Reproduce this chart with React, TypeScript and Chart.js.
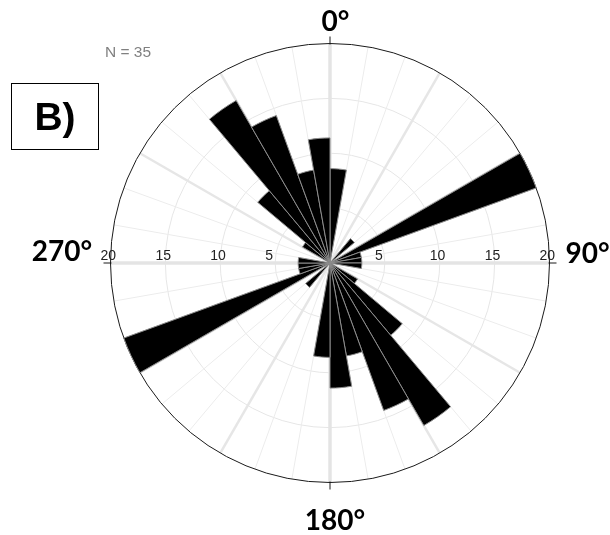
import React, { useEffect, useRef } from 'react';
import { Chart, registerables } from 'chart.js';

Chart.register(...registerables);

// 10° bins (start angle of each bin, clockwise from north)
const BIN_STARTS = [
  0, 10, 20, 30, 40, 50, 60, 70, 80, 90, 100, 110,
  120, 130, 140, 150, 160, 170, 180, 190, 200, 210, 220, 230,
  240, 250, 260, 270, 280, 290, 300, 310, 320, 330, 340, 350,
];

// percentage of observations in each bin
const PERCENT = [
  8.6, 0, 0, 0, 2.9, 0, 20, 2.9, 2.9, 2.9, 0, 0,
  2.9, 8.6, 17.1, 14.3, 8.6, 11.4, 8.6, 0, 0, 0, 2.9, 0,
  20, 2.9, 2.9, 2.9, 0, 0, 2.9, 8.6, 17.1, 14.3, 8.6, 11.4,
];

const RADIAL_TICKS = [5, 10, 15, 20];
const RADIAL_MAX = 20;
const DIRECTION_LABELS = ['0°', '90°', '180°', '270°'];
const SAMPLE_LABEL = 'N = 35';
const PANEL_LABEL = 'B)';

const CANVAS_SIZE = 480;
const OUTER_RADIUS = 219.5;
const CENTER_X = 330;
const CENTER_Y = 263;

export default function App() {
  const ref = useRef<HTMLCanvasElement>(null);

  useEffect(() => {
    const canvas = ref.current;
    if (!canvas) return;

    const rad = (deg: number) => ((deg - 90) * Math.PI) / 180;

    const roseGrid = {
      id: 'roseGrid',
      beforeDatasetsDraw(chart: any) {
        const scale = chart.scales.r;
        const ctx = chart.ctx as CanvasRenderingContext2D;
        const cx = scale.xCenter;
        const cy = scale.yCenter;
        const R = scale.getDistanceFromCenterForValue(RADIAL_MAX);
        ctx.save();
        // rings
        ctx.strokeStyle = '#e6e6e6';
        ctx.lineWidth = 1;
        RADIAL_TICKS.filter((v) => v < RADIAL_MAX).forEach((v) => {
          const r = scale.getDistanceFromCenterForValue(v);
          ctx.beginPath();
          ctx.arc(cx, cy, r, 0, Math.PI * 2);
          ctx.stroke();
        });
        // spokes
        BIN_STARTS.forEach((a) => {
          if (a % 90 === 0) {
            ctx.lineWidth = 3.5;
            ctx.strokeStyle = '#e4e4e4';
          } else if (a % 30 === 0) {
            ctx.lineWidth = 2.5;
            ctx.strokeStyle = '#e6e6e6';
          } else {
            ctx.lineWidth = 1;
            ctx.strokeStyle = '#ececec';
          }
          const t = rad(a);
          ctx.beginPath();
          ctx.moveTo(cx, cy);
          ctx.lineTo(cx + Math.cos(t) * R, cy + Math.sin(t) * R);
          ctx.stroke();
        });
        // outer circle
        ctx.strokeStyle = '#1a1a1a';
        ctx.lineWidth = 1;
        ctx.beginPath();
        ctx.arc(cx, cy, R, 0, Math.PI * 2);
        ctx.stroke();
        // cardinal tick marks
        [0, 90, 180, 270].forEach((a) => {
          const t = rad(a);
          ctx.beginPath();
          ctx.moveTo(cx + Math.cos(t) * (R - 1), cy + Math.sin(t) * (R - 1));
          ctx.lineTo(cx + Math.cos(t) * (R + 7), cy + Math.sin(t) * (R + 7));
          ctx.stroke();
        });
        ctx.restore();
      },
      afterDatasetsDraw(chart: any) {
        const scale = chart.scales.r;
        const ctx = chart.ctx as CanvasRenderingContext2D;
        const cx = scale.xCenter;
        const cy = scale.yCenter;
        ctx.save();
        ctx.fillStyle = '#222';
        ctx.font = '14px "Liberation Sans", Arial, sans-serif';
        ctx.textAlign = 'left';
        ctx.textBaseline = 'alphabetic';
        RADIAL_TICKS.forEach((v) => {
          const r = scale.getDistanceFromCenterForValue(v);
          [-1, 1].forEach((side) => {
            ctx.fillText(String(v), cx + side * r - 10, cy - 3);
          });
        });
        ctx.restore();
      },
    };

    const chart = new Chart(canvas, {
      type: 'polarArea',
      data: {
        labels: BIN_STARTS.map((a) => `${a}°–${a + 10}°`),
        datasets: [
          {
            data: PERCENT,
            backgroundColor: '#000000',
            borderColor: '#8c8c8c',
            borderWidth: 1,
          },
        ],
      },
      options: {
        responsive: false,
        animation: false,
        layout: { padding: 0 },
        plugins: {
          legend: { display: false },
          tooltip: { enabled: false },
        },
        scales: {
          r: {
            min: 0,
            max: (RADIAL_MAX * (CANVAS_SIZE / 2)) / OUTER_RADIUS,
            startAngle: 0,
            ticks: { display: false },
            grid: { display: false },
            angleLines: { display: false },
            pointLabels: { display: false },
          },
        },
      },
      plugins: [roseGrid],
    } as any);

    return () => chart.destroy();
  }, []);

  const dirFont: React.CSSProperties = {
    position: 'absolute',
    fontFamily: 'Lato, "Open Sans", sans-serif',
    fontWeight: 700,
    fontSize: '28px',
    lineHeight: '28px',
    color: '#000',
    transform: 'translate(-50%, -50%)',
    whiteSpace: 'nowrap',
  };

  const dirPos = [
    { x: 335.5, y: 20 },
    { x: 587.5, y: 252 },
    { x: 335, y: 519 },
    { x: 62, y: 250 },
  ];

  return (
    <div
      style={{
        position: 'absolute',
        left: 0,
        top: 0,
        width: 610,
        height: 535,
        background: '#fff',
        overflow: 'hidden',
      }}
    >
      <canvas
        ref={ref}
        width={CANVAS_SIZE}
        height={CANVAS_SIZE}
        style={{
          position: 'absolute',
          left: CENTER_X - CANVAS_SIZE / 2,
          top: CENTER_Y - CANVAS_SIZE / 2,
          width: CANVAS_SIZE,
          height: CANVAS_SIZE,
        }}
      />
      {DIRECTION_LABELS.map((t, i) => (
        <div key={t} style={{ ...dirFont, left: dirPos[i].x, top: dirPos[i].y }}>
          {t}
        </div>
      ))}
      <div
        style={{
          position: 'absolute',
          left: 105,
          top: 43,
          fontFamily: '"Liberation Sans", Arial, sans-serif',
          fontSize: '15.5px',
          lineHeight: '18px',
          color: '#808080',
          whiteSpace: 'nowrap',
        }}
      >
        {SAMPLE_LABEL}
      </div>
      <div
        style={{
          position: 'absolute',
          left: 11,
          top: 83,
          width: 88,
          height: 67,
          boxSizing: 'border-box',
          border: '1.5px solid #000',
          display: 'flex',
          alignItems: 'center',
          justifyContent: 'center',
          fontFamily: '"Liberation Sans", Arial, sans-serif',
          fontWeight: 700,
          fontSize: '39px',
          color: '#000',
        }}
      >
        {PANEL_LABEL}
      </div>
    </div>
  );
}
